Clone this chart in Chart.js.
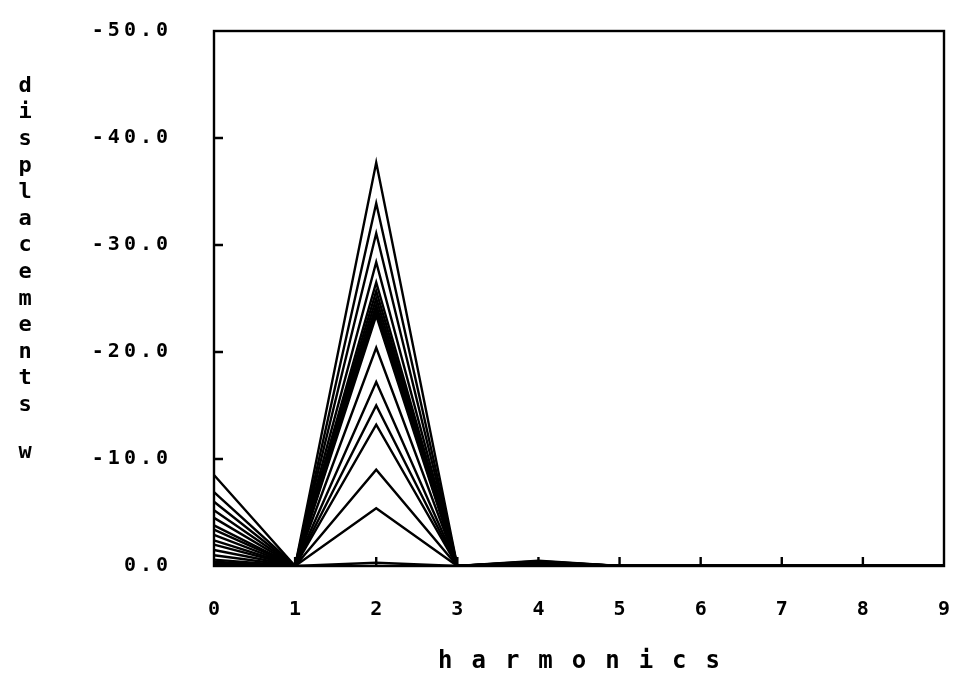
<!DOCTYPE html>
<html><head><meta charset="utf-8">
<script src="https://cdn.jsdelivr.net/npm/chart.js@4.4.0/dist/chart.umd.min.js"></script>
<style>html,body{margin:0;padding:0;background:#fff;}#wrap{position:relative;width:959px;height:682px;}</style>
</head><body><div id="wrap"><canvas id="c" width="959" height="682"></canvas></div>
<script>
const harmonics = ['0','1','2','3','4','5','6','7','8','9'];
const xTitle = 'harmonics';
const yTitle = 'displacements';
const yMark = 'w';
// values of each of the 17 curves at each harmonic
const h0 = [-8.5,-6.9,-6.0,-5.2,-4.5,-3.8,-3.4,-2.9,-2.4,-2.0,-1.5,-1.0,-0.6,-0.4,-0.3,-0.2,-0.1];
const h1 = [0,0,0,0,0,0,0,0,0,0,0,0,0,0,0,0,0];
const h2 = [-37.7,-33.9,-31.1,-28.4,-26.5,-25.7,-25.0,-24.4,-23.9,-23.4,-20.4,-17.2,-15.0,-13.2,-9.0,-5.4,-0.3];
const h3 = [0,0,0,0,0,0,0,0,0,0,0,0,0,0,0,0,0];
const h4 = [-0.5,-0.45,-0.4,-0.4,-0.35,-0.3,-0.3,-0.25,-0.2,-0.2,-0.15,-0.1,-0.1,-0.05,0,0,0];
const h5 = [0,0,0,0,0,0,0,0,0,0,0,0,0,0,0,0,0];
const h6 = [0,0,0,0,0,0,0,0,0,0,0,0,0,0,0,0,0];
const h7 = [0,0,0,0,0,0,0,0,0,0,0,0,0,0,0,0,0];
const h8 = [0,0,0,0,0,0,0,0,0,0,0,0,0,0,0,0,0];
const h9 = [0,0,0,0,0,0,0,0,0,0,0,0,0,0,0,0,0];

const cols = [h0,h1,h2,h3,h4,h5,h6,h7,h8,h9];
const datasets = h0.map((_, i) => ({
  data: cols.map(c => c[i]),
  borderColor: '#000', borderWidth: 2.4, pointRadius: 0, tension: 0, fill: false
}));

const frame = {
  id: 'frame',
  beforeDraw(chart) {
    const ctx = chart.ctx;
    const xs = chart.scales.x, ys = chart.scales.y;
    if (!xs._lsPatched) {
      const orig = xs.drawTitle.bind(xs);
      xs.drawTitle = function (...a) { ctx.save(); ctx.letterSpacing = '19px'; ctx.translate(9.5, 0); orig(...a); ctx.restore(); };
      xs._lsPatched = true;
    }
    if (!ys._lsPatched) {
      const origL = ys.drawLabels.bind(ys);
      ys.drawLabels = function (...a) { ctx.save(); ctx.letterSpacing = '4px'; origL(...a); ctx.restore(); };
      ys._lsPatched = true;
    }
  },
  afterDraw(chart) {
    const ctx = chart.ctx;
    const {left, top, right, bottom} = chart.chartArea;
    ctx.save();
    ctx.strokeStyle = '#000';
    ctx.lineWidth = 2.4;
    ctx.strokeRect(left, top, right - left, bottom - top);
    ctx.beginPath();
    const ys = chart.scales.y;
    ys.ticks.forEach(t => {
      if (t.value === 0 || t.value === -50) return;
      const py = ys.getPixelForValue(t.value);
      ctx.moveTo(left, py); ctx.lineTo(left + 9, py);
    });
    const xs = chart.scales.x;
    xs.ticks.forEach((t, i) => {
      if (i === 0 || i === xs.ticks.length - 1) return;
      const px = xs.getPixelForTick(i);
      ctx.moveTo(px, bottom); ctx.lineTo(px, bottom - 9);
    });
    ctx.stroke();
    ctx.fillStyle = '#000';
    ctx.font = 'bold 22px "DejaVu Sans Mono"';
    ctx.textAlign = 'center';
    ctx.textBaseline = 'middle';
    [...yTitle].forEach((ch, i) => ctx.fillText(ch, 25, 86 + i * 26.6));
    ctx.fillText(yMark, 25, 452);
    ctx.restore();
  }
};

new Chart(document.getElementById('c'), {
  type: 'line',
  data: { labels: harmonics, datasets },
  plugins: [frame],
  options: {
    responsive: false,
    animation: false,
    layout: { padding: { top: 31, right: 15, left: 0, bottom: 0 } },
    plugins: { legend: { display: false }, tooltip: { enabled: false } },
    scales: {
      x: {
        type: 'category', offset: false,
        grid: { display: false, drawTicks: false },
        border: { display: false },
        ticks: { padding: 32, color: '#000', maxRotation: 0, autoSkip: false,
                 font: { family: 'DejaVu Sans Mono', size: 20, weight: 'bold' } },
        title: { display: true, text: xTitle, color: '#000', padding: { top: 0, bottom: 6 },
                 font: { family: 'DejaVu Sans Mono', size: 24, weight: 'bold' } },
        afterFit(s) { s.height = 116; s.paddingLeft = 0; s.paddingRight = 0; }
      },
      y: {
        reverse: true, min: -50, max: 0,
        grid: { display: false, drawTicks: false },
        border: { display: false },
        ticks: { stepSize: 10, padding: 42, color: '#000',
                 callback: v => Number(v).toFixed(1),
                 font: { family: 'DejaVu Sans Mono', size: 20, weight: 'bold' } },
        afterFit(s) { s.width = 214; s.paddingTop = 0; s.paddingBottom = 0; }
      }
    }
  }
});
</script></body></html>
